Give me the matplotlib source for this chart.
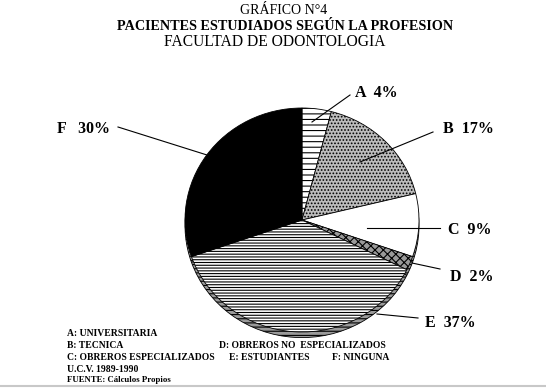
import matplotlib
matplotlib.use("Agg")
import matplotlib.pyplot as plt

# datos del grafico
letras = ["A", "B", "C", "D", "E", "F"]
porcentajes = [4, 17, 9, 2, 37, 30]
etiquetas = ["A  4%", "B  17%", "C  9%", "D  2%", "E  37%", "F   30%"]
titulo1 = "GRÁFICO N°4"
titulo2 = "PACIENTES ESTUDIADOS SEGÚN LA PROFESION"
titulo3 = "FACULTAD DE ODONTOLOGIA"
leyenda = [
    ["A: UNIVERSITARIA"],
    ["B: TECNICA", "D: OBREROS NO  ESPECIALIZADOS"],
    ["C: OBREROS ESPECIALIZADOS", "E: ESTUDIANTES", "F: NINGUNA"],
    ["U.C.V. 1989-1990"],
    ["FUENTE: Cálculos Propios"],
]

W, H = 546, 388
plt.rcParams["font.family"] = ["Liberation Serif", "DejaVu Serif"]
plt.rcParams["hatch.linewidth"] = 0.8

fig = plt.figure(figsize=(W / 100, H / 100), dpi=100)
fig.patch.set_facecolor("white")

# torta
cx, cy, rx, ry = 302, 220, 117, 112
ylo = -1.1
ax = fig.add_axes([(cx - rx) / W, (H - (cy - ylo * ry)) / H,
                   2 * rx / W, (1 - ylo) * ry / H])

# sombra / espesor
prof, _ = ax.pie(porcentajes, startangle=90, counterclock=False,
                 center=(0, -0.05), radius=1.0,
                 wedgeprops=dict(facecolor="#9a9a9a", edgecolor="black",
                                 linewidth=0.6, hatch="----"))

colores = ["white", "#bdbdbd", "white", "#9a9a9a", "white", "black"]
tramas = ["---", ".....", "", "xxxx", "------", ""]
cuñas, _ = ax.pie(porcentajes, startangle=90, counterclock=False, radius=1.0,
                  colors=colores,
                  wedgeprops=dict(edgecolor="black", linewidth=0.6))
for w, t in zip(cuñas, tramas):
    w.set_hatch(t)

ax.set_aspect("auto")
ax.set_xlim(-1, 1)
ax.set_ylim(ylo, 1)
ax.axis("off")

# capa superior en pixeles para textos y lineas guia
bg = fig.add_axes([0, 0, 1, 1])
bg.set_xlim(0, W)
bg.set_ylim(H, 0)
bg.axis("off")
bg.patch.set_alpha(0)

bg.text(284, 11, titulo1, ha="center", va="center", fontsize=10)
bg.text(285, 27, titulo2, ha="center", va="center", fontsize=10.2, fontweight="bold")
bg.text(275, 42, titulo3, ha="center", va="center", fontsize=11.2)

pos_etq = [(355, 93), (443, 129), (448, 230), (450, 277), (425, 323), (57, 129)]
lineas = [((312, 122), (350, 95)), ((360, 162), (433, 132)),
          ((367, 228), (440, 228)), ((412, 263), (440, 269)),
          ((377, 314), (418, 318)), ((118, 127), (207, 155))]
for txt, (x, y), (p0, p1) in zip(etiquetas, pos_etq, lineas):
    bg.text(x, y, txt, ha="left", va="center", fontsize=11.5, fontweight="bold")
    bg.plot([p0[0], p1[0]], [p0[1], p1[1]], color="black", lw=0.8)

# leyenda inferior
filas_y = [334, 346, 358, 369, 380]
filas_x = [[67], [67, 219], [67, 229, 332], [67], [67]]
filas_fs = [6.9, 6.9, 6.9, 6.9, 6.3]
for fila, xs, y, fs in zip(leyenda, filas_x, filas_y, filas_fs):
    for s, x in zip(fila, xs):
        bg.text(x, y, s, ha="left", va="center", fontsize=fs, fontweight="bold")

bg.plot([0, W], [386, 386], color="#c8c8c8", lw=1.5)

fig.savefig("out.png", dpi=100, facecolor="white")
